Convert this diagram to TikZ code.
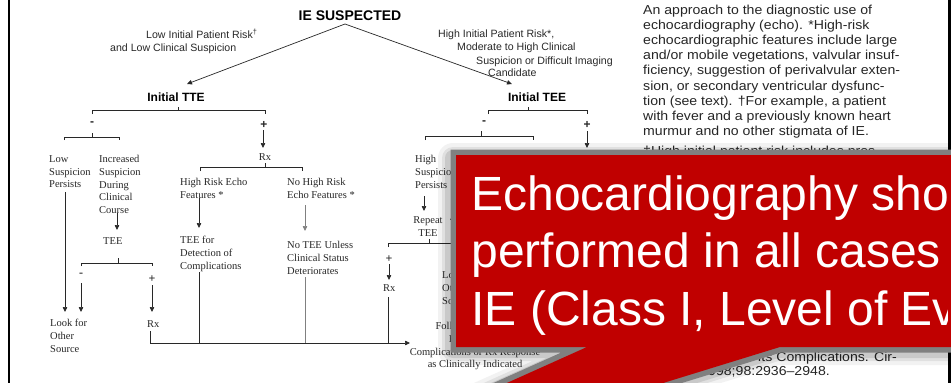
\documentclass[tikz,border=0pt]{standalone}
\usepackage{fontspec}
\setmainfont{Liberation Serif}
\newfontfamily\arial{Liberation Sans}
\newfontfamily\parafont[FakeStretch=1.085]{Liberation Sans}
\usetikzlibrary{arrows.meta}
\definecolor{calred}{RGB}{192,0,0}
\definecolor{calgray}{RGB}{128,128,128}
\definecolor{ink}{RGB}{40,40,40}
\begin{document}
\begin{tikzpicture}[x=1pt,y=-1pt,
 conn/.style={draw=ink, line width=0.7pt},
 arr/.style={conn, -{Triangle[length=5pt,width=4.5pt]}},
 lab/.style={inner sep=0pt, align=left, anchor=north west, text=ink, font=\fontsize{10.5}{12.7}\selectfont},
 toplab/.style={inner sep=0pt, anchor=base west, text=ink, font=\arial\fontsize{10.6}{12}\selectfont},
 head/.style={inner sep=0pt, anchor=base, text=black, font=\arial\bfseries\fontsize{12}{14}\selectfont},
 sign/.style={inner sep=0pt, text=ink, font=\arial\bfseries\fontsize{12}{14}\selectfont},
 ssign/.style={inner sep=0pt, text=ink, font=\bfseries\fontsize{12}{14}\selectfont},
 para/.style={inner sep=0pt, anchor=base west, text=black!85, font=\parafont\fontsize{13}{15}\selectfont},
 parar/.style={para, anchor=base east},
 call/.style={inner sep=0pt, anchor=base west, text=white, font=\arial\fontsize{48}{57}\selectfont},
 callshape/.style={insert path={(456,155) -- (975,155) -- (975,347) -- (780,347) -- (608,400) -- (469,400) -- (587,347) -- (456,347) -- cycle}},
]
\clip (0,0) rectangle (951,383);
\fill[white] (0,0) rectangle (951,383);
% page borders
\draw[black, line width=2pt] (8.5,0) -- (8.5,383);
\draw[black, line width=2.5pt] (949.7,0) -- (949.7,383);

% ---------- flowchart ----------
\node[head, font=\arial\bfseries\fontsize{14}{15}\selectfont] (ie) at (350,20) {IE SUSPECTED};
\node[head] (tte) at (176,101.3) {Initial TTE};
\node[head] (tee) at (537,101.3) {Initial TEE};
\coordinate (apex) at (345,24);
\coordinate (ttetip) at (187,84);
\coordinate (teetip) at (512,84);
\draw[arr] (apex) -- (ttetip);
\draw[arr] (apex) -- (teetip);

\node[toplab] (lr1) at (146,38.5) {Low Initial Patient Risk\textsuperscript{†}};
\node[toplab] (lr2) at (110,51) {and Low Clinical Suspicion};
\node[toplab] (hr1) at (438,37) {High Initial Patient Risk*,};
\node[toplab] (hr2) at (457,50) {Moderate to High Clinical};
\node[toplab] (hr3) at (476,64) {Suspicion or Difficult Imaging};
\node[toplab] (hr4) at (488,76) {Candidate};

% TTE bracket
\draw[conn] (92,114) -- (92,110) -- (265,110) -- (265,114);
\draw[conn] (178,110) -- (178,107);
\node[sign] (ttem) at (92,124) {-};
\node[sign] (ttep) at (264,125) {+};
% TEE bracket
\draw[conn] (488,114) -- (488,110) -- (587,110) -- (587,114);
\draw[conn] (528,110) -- (528,107);
\node[sign] (teem) at (484,123) {-};
\node[sign] (teep) at (587,125) {+};

% TTE minus branch
\draw[conn] (64,140) -- (64,137) -- (119,137) -- (119,140);
\draw[conn] (92,137) -- (92,133);
\node[lab] (lowsusp) at (49,155.3) {Low\\Suspicion\\Persists};
\node[lab] (incsusp) at (99,155.3) {Increased\\Suspicion\\During\\Clinical\\Course};
\node[lab] (tee1) at (103,237.3) {TEE};
\draw[arr] (65,192) -- (65,312);
\draw[arr] (117,213) -- (117,230);
\draw[conn] (81,266) -- (81,263) -- (152,263) -- (152,266);
\draw[conn] (118,263) -- (118,258);
\node[ssign] (sm) at (81,275) {-};
\node[ssign] (sp) at (152,279) {+};
\draw[arr] (81,283) -- (81,312);
\draw[arr] (152,285) -- (152,312);
\node[lab] (lookfor1) at (50,319.3) {Look for\\Other\\Source};
\node[lab] (rx1) at (147,320.3) {Rx};

% TTE plus branch
\draw[arr] (263,130) -- (263,148);
\node[lab, anchor=north] (rx2) at (265,153.3) {Rx};
\draw[conn] (200,171) -- (200,167) -- (302,167) -- (302,171);
\draw[conn] (265,167) -- (265,163);
\node[lab] (hrisk) at (180,178.3) {High Risk Echo\\Features *};
\node[lab] (nohrisk) at (287,178.3) {No High Risk\\Echo Features *};
\draw[arr] (199,198) -- (199,228);
\draw[arr, draw=black!50] (305,205) -- (305,231);
\node[lab] (teefor) at (180,236.3) {TEE for\\Detection of\\Complications};
\node[lab] (notee) at (287,241.3) {No TEE Unless\\Clinical Status\\Deteriorates};
\draw[conn] (199,272) -- (199,343);
\draw[conn, draw=black!50] (305,277) -- (305,343);

% TEE branches
\draw[conn] (425,140) -- (425,136) -- (533,136) -- (533,140);
\draw[conn] (481,136) -- (481,131);
\draw[arr] (587,131) -- (587,148);
\node[lab] (highsusp) at (415,155.3) {High\\Suspicion\\Persists};
\draw[arr] (424,196) -- (424,211);
\node[lab, anchor=north, align=center] (repeat) at (428,216.3) {Repeat\\TEE};
\draw[arr] (470,205) -- (450,220);
\draw[conn] (388,247) -- (388,243) -- (500,243);
\draw[conn] (429,243) -- (429,239);
\node[ssign] (rp) at (389,259) {+};
\draw[arr] (389,264) -- (389,280);
\node[lab] (rx3) at (383,284.3) {Rx};
\draw[conn] (388,297) -- (388,343);
\node[lab] (lookfor2) at (442,271.3) {Look for\\Other\\Source};
\node[lab, anchor=north, align=center] (follow) at (475,322.3) {Follow-up Echo to\\Reassess for\\Complications or Rx Response\\as Clinically Indicated};
\draw[arr] (150,331) |- (410,343);

% ---------- caption text ----------
\node[para] (p1) at (643,14) {An approach to the diagnostic use of};
\node[para] (p2) at (643,29.2) {echocardiography (echo). *High-risk};
\node[para] (p3) at (643,44.4) {echocardiographic features include large};
\node[para] (p4) at (643,59.6) {and/or mobile vegetations, valvular insuf-};
\node[para] (p5) at (643,74.8) {ficiency, suggestion of perivalvular exten-};
\node[para] (p6) at (643,90) {sion, or secondary ventricular dysfunc-};
\node[para] (p7) at (643,105.2) {tion (see text). †For example, a patient};
\node[para] (p8) at (643,120.4) {with fever and a previously known heart};
\node[para] (p9) at (643,135.6) {murmur and no other stigmata of IE.};
\node[para] (p10) at (643,155.5) {‡High initial patient risk includes pros-};
\node[parar] (p11) at (897,361) {and Its Complications. Cir-};
\node[parar] (p12) at (830,375) {culation. 1998;98:2936–2948.};

% ---------- callout ----------
\begin{scope}[transform canvas={shift={(-3pt,-3pt)}}]
\draw[line width=30pt, black, opacity=0.05, line join=round, callshape];
\draw[line width=22pt, black, opacity=0.07, line join=round, callshape];
\draw[line width=16pt, black, opacity=0.10, line join=round, callshape];
\end{scope}
\draw[calgray, line width=11pt, callshape];
\fill[calred, callshape];
\begin{scope}
\clip (456,155) rectangle (947,347);
\node[call] (c1) at (471.2,210) {Echocardiography should be};
\node[call] (c2) at (471.2,267.5) {performed in all cases of suspected};
\node[call] (c3) at (471.2,325) {IE (Class I, Level of Evidence: B)};
\end{scope}
\end{tikzpicture}
\end{document}
